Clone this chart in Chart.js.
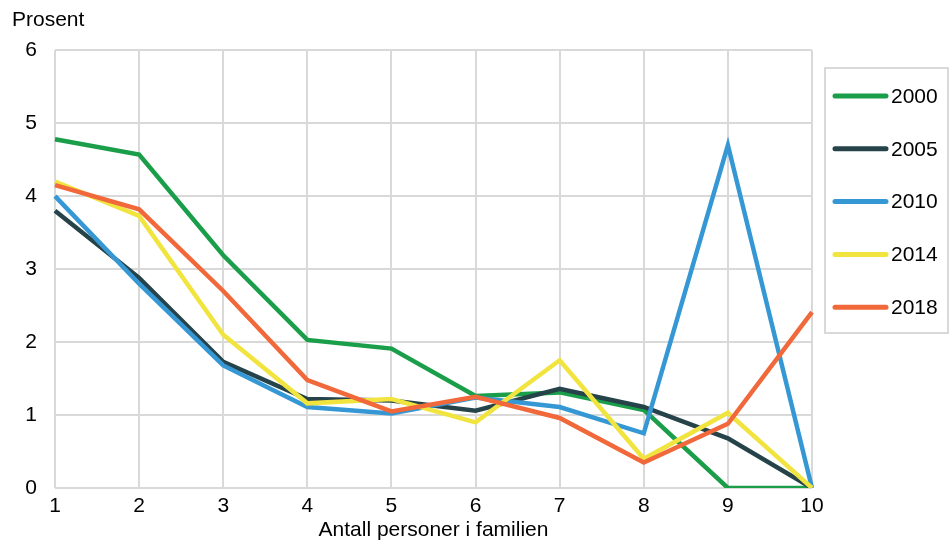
<!DOCTYPE html>
<html>
<head>
<meta charset="utf-8">
<script src="https://cdn.jsdelivr.net/npm/chart.js"></script>
<style>
html, body { margin: 0; padding: 0; background: #fff; }
</style>
</head>
<body>
<canvas id="chart" width="949" height="541"></canvas>
<script>
// data
var categories = ["1", "2", "3", "4", "5", "6", "7", "8", "9", "10"];
var years = ["2000", "2005", "2010", "2014", "2018"];
var colors = ["#1b9e49", "#26434a", "#3598d5", "#f1e43e", "#f1683a"];
var values2000 = [4.78, 4.57, 3.19, 2.03, 1.91, 1.26, 1.31, 1.07, 0, 0];
var values2005 = [3.8, 2.88, 1.73, 1.22, 1.2, 1.06, 1.36, 1.11, 0.68, 0];
var values2010 = [4.0, 2.8, 1.68, 1.11, 1.02, 1.24, 1.11, 0.75, 4.7, 0];
var values2014 = [4.2, 3.73, 2.1, 1.16, 1.22, 0.9, 1.75, 0.4, 1.03, 0];
var values2018 = [4.15, 3.82, 2.7, 1.48, 1.05, 1.25, 0.96, 0.35, 0.88, 2.41];
var yTicks = [0, 1, 2, 3, 4, 5, 6];

var series = [values2000, values2005, values2010, values2014, values2018];

Chart.defaults.font.family = '"Liberation Sans", Arial, sans-serif';
Chart.defaults.color = '#000';

var gridColor = '#d9d9d9';

// legend drawn by hand, boxed like the original
var legendBox = {
    id: 'legendBox',
    afterDraw: function(chart) {
        var c = chart.ctx;
        c.save();
        c.strokeStyle = gridColor;
        c.lineWidth = 2;
        c.strokeRect(825, 68, 123, 265);
        c.font = '21px "Liberation Sans", Arial, sans-serif';
        c.textBaseline = 'middle';
        c.textAlign = 'left';
        chart.data.datasets.forEach(function(ds, i) {
            var y = 96 + i * 52.8;
            c.strokeStyle = ds.borderColor;
            c.lineWidth = 5;
            c.lineCap = 'round';
            c.beginPath();
            c.moveTo(835, y);
            c.lineTo(886, y);
            c.stroke();
            c.fillStyle = '#000';
            c.fillText(ds.label, 891, y + 1);
        });
        c.restore();
    }
};

var datasets = years.map(function(y, i) {
    return {
        label: y,
        data: series[i],
        borderColor: colors[i],
        backgroundColor: colors[i],
        borderWidth: 4.5,
        pointRadius: 0,
        pointHoverRadius: 0,
        tension: 0,
        fill: false,
        order: years.length - i
    };
});

var ctx = document.getElementById("chart");
var chart = new Chart(ctx, {
    type: 'line',
    data: {
        labels: categories,
        datasets: datasets
    },
    options: {
        responsive: false,
        animation: false,
        layout: {
            padding: { left: 12, right: 137, top: 0, bottom: 0 }
        },
        plugins: {
            legend: { display: false },
            tooltip: { enabled: false },
            title: {
                display: true,
                text: 'Prosent',
                align: 'start',
                color: '#000',
                font: { size: 21, weight: 'normal', lineHeight: 1.2 },
                padding: { top: 8, bottom: 17 }
            }
        },
        scales: {
            x: {
                offset: false,
                grid: { color: gridColor, lineWidth: 2, drawTicks: false },
                border: { display: false },
                ticks: { font: { size: 21, lineHeight: 1 }, padding: 8, maxRotation: 0, autoSkip: false },
                title: {
                    display: true,
                    text: 'Antall personer i familien',
                    font: { size: 21, lineHeight: 1 },
                    padding: { top: 0, bottom: 0 }
                },
                afterFit: function(s) { s.height = 53; }
            },
            y: {
                min: yTicks[0],
                max: yTicks[yTicks.length - 1],
                grid: { color: gridColor, lineWidth: 2, drawTicks: false },
                border: { display: false },
                ticks: { stepSize: 1, font: { size: 21 }, padding: 18 },
                afterFit: function(s) { s.width = 43; }
            }
        }
    },
    plugins: [legendBox]
});
</script>
</body>
</html>
